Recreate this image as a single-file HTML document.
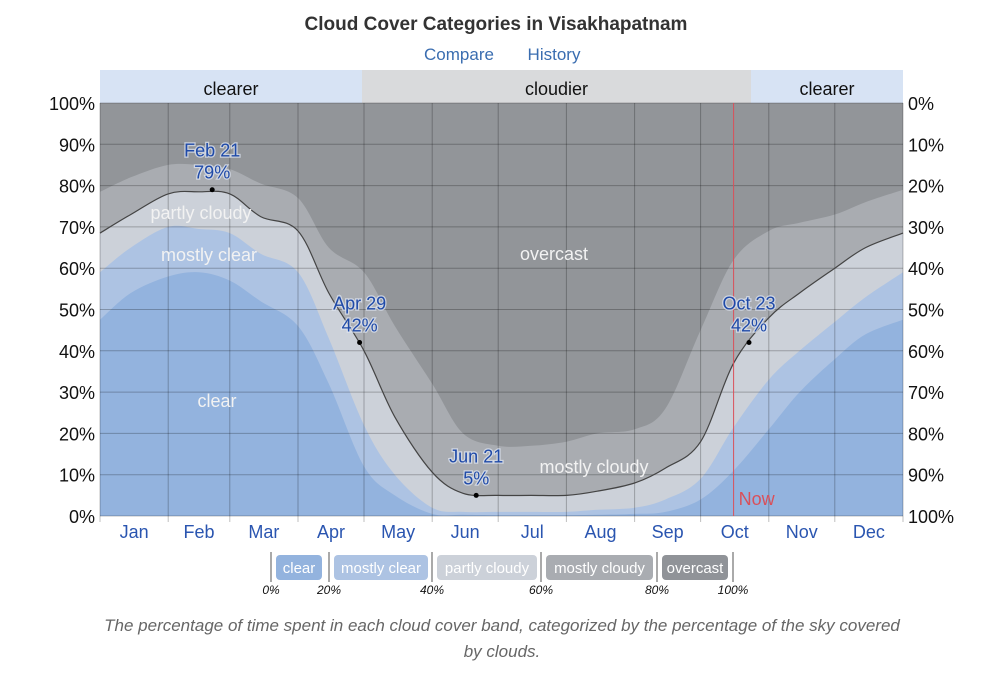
<!DOCTYPE html>
<html><head><meta charset="utf-8"><style>
body{margin:0;background:#fff;width:993px;height:682px;overflow:hidden;font-family:"Liberation Sans",sans-serif;}
svg{position:absolute;left:0;top:0}
</style></head><body>
<svg id="c" width="993" height="682"></svg>
<script>
const days=[0,14,31,45,59,73,90,104,120,134,151,165,181,196,212,226,243,257,273,288,304,318,334,348,365];
const clearTop=[47.5,54,58,59,57,52,46,32,12,5,0.5,0.3,0.2,0.2,0.2,0.3,0.5,1,4,11,21,30,38,44,47.5];
const mostlyClearTop=[59,65,70,69.5,68.5,63.5,59,43,22,10,2,1,1,1,1,1.5,2,4,9,21.5,33,40,47,53,59];
const partlyCloudyTop=[68.5,73,78,78.5,78,72.5,69,54,40,24,10.6,5.5,5,5,5,6,8,11.6,18,37,48,54,60,65,68.5];
const mostlyCloudyTop=[78.5,82,85,85,84,80.5,77,65,59,46,32,20,17,17,18,20,21,26,45,62,69,71,73,76,79];
const months=["Jan","Feb","Mar","Apr","May","Jun","Jul","Aug","Sep","Oct","Nov","Dec"];
const monthStart=[0,31,59,90,120,151,181,212,243,273,304,334,365];
const yTicks=[0,10,20,30,40,50,60,70,80,90,100];
const markerDays=[51,118,171,295];
const markerVals=[79,42,5,42];
const markerNames=["Feb 21","Apr 29","Jun 21","Oct 23"];
const nowDay=288;

const X0=100,X1=903,Y0=516,Y1=103;
const xs=d=>X0+d*(X1-X0)/365;
const ys=v=>Y0-v*(Y0-Y1)/100;
const NS="http://www.w3.org/2000/svg";
const svg=document.getElementById('c');
function mk(tag,attrs,parent){const e=document.createElementNS(NS,tag);for(const k in attrs)e.setAttribute(k,attrs[k]);(parent||svg).appendChild(e);return e;}
function txt(s,attrs){const e=mk('text',attrs);e.textContent=s;return e;}
function smooth(arr){
  const P=days.map((d,i)=>[xs(d),ys(arr[i])]);
  let d='M'+P[0][0].toFixed(1)+','+P[0][1].toFixed(1);
  for(let i=0;i<P.length-1;i++){
    const p0=P[Math.max(0,i-1)],p1=P[i],p2=P[i+1],p3=P[Math.min(P.length-1,i+2)];
    const c1=[p1[0]+(p2[0]-p0[0])/6,p1[1]+(p2[1]-p0[1])/6];
    const c2=[p2[0]-(p3[0]-p1[0])/6,p2[1]-(p3[1]-p1[1])/6];
    d+=' C'+c1[0].toFixed(1)+','+c1[1].toFixed(1)+' '+c2[0].toFixed(1)+','+c2[1].toFixed(1)+' '+p2[0].toFixed(1)+','+p2[1].toFixed(1);
  }
  return d;
}

let t=txt("Cloud Cover Categories in Visakhapatnam",{x:496,y:30,'text-anchor':'middle','font-size':19,'font-weight':'bold',fill:'#333'});

t=txt("Compare",{x:459,y:60,'text-anchor':'middle','font-size':17,fill:'#3a6db0'});

t=txt("History",{x:554,y:60,'text-anchor':'middle','font-size':17,fill:'#3a6db0'});


const hb=[[X0,362,'#d7e3f4','clearer'],[362,751,'#d9dadc','cloudier'],[751,X1,'#d7e3f4','clearer']];
hb.forEach((h,i)=>{let r=mk('rect',{x:h[0],y:70,width:h[1]-h[0],height:33,fill:h[2]});

let tt=txt(h[3],{x:(h[0]+h[1])/2,y:95,'text-anchor':'middle','font-size':18,fill:'#111'});
});

let bg=mk('rect',{x:X0,y:Y1,width:X1-X0,height:Y0-Y1,fill:'#929599'});

function area(arr,fill,name){let d=smooth(arr)+' L'+xs(365)+','+ys(0)+' L'+xs(0)+','+ys(0)+' Z';
let p=mk('path',{d:d,fill:fill});}
area(mostlyCloudyTop,'#a9acb1','mostly-cloudy-area');
area(partlyCloudyTop,'#ccd1d9','partly-cloudy-area');
area(mostlyClearTop,'#adc3e3','mostly-clear-area');
area(clearTop,'#93b3de','clear-area');

yTicks.forEach(v=>{let l=mk('line',{x1:X0,x2:X1,y1:ys(v),y2:ys(v),stroke:'rgba(0,0,0,0.25)','stroke-width':1});

let a=txt(v+'%',{x:95,y:ys(v)+7,'text-anchor':'end','font-size':18,fill:'#111'});

let b=txt((100-v)+'%',{x:908,y:ys(v)+7,'font-size':18,fill:'#111'});
});
monthStart.forEach(d=>{let l=mk('line',{x1:xs(d),x2:xs(d),y1:Y1,y2:Y0+6,stroke:'rgba(0,0,0,0.25)','stroke-width':1});
});
months.forEach((m,i)=>{let a=txt(m,{x:xs((monthStart[i]+monthStart[i+1])/2),y:538,'text-anchor':'middle','font-size':18,fill:'#2a55b0'});
});

let pl=mk('path',{d:smooth(partlyCloudyTop),fill:'none',stroke:'#444','stroke-width':1.2});


let nl=mk('line',{x1:xs(nowDay),x2:xs(nowDay),y1:Y1,y2:Y0,stroke:'#d9505a','stroke-width':1});

t=txt("Now",{x:xs(nowDay)+5,y:505,'font-size':18,fill:'#d9505a'});


[["clear",217,407],["mostly clear",209,261],["partly cloudy",201,219],["overcast",554,260],["mostly cloudy",594,473]].forEach(b=>{
let a=txt(b[0],{x:b[1],y:b[2],'text-anchor':'middle','font-size':18,fill:'#f2f2f2'});
});

markerDays.forEach((d,i)=>{let c=mk('circle',{cx:xs(d),cy:ys(markerVals[i]),r:2.5,fill:'#000'});

const st={'text-anchor':'middle','font-size':18,fill:'#1f4aa8',stroke:'rgba(225,232,245,0.7)','stroke-width':2.5,'paint-order':'stroke'};
let a=txt(markerNames[i],Object.assign({x:xs(d),y:ys(markerVals[i])-33},st));

let b=txt(markerVals[i]+'%',Object.assign({x:xs(d),y:ys(markerVals[i])-11},st));
});

const legNames=["clear","mostly clear","partly cloudy","mostly cloudy","overcast"];
const legColors=["#93b3de","#adc3e3","#ccd1d9","#a9acb1","#909398"];
const legPct=["0%","20%","40%","60%","80%","100%"];
const sepX=[271,329,432,541,657,733];
const boxes=[[276,322],[334,428],[437,537],[546,653],[662,728]];
boxes.forEach((b,i)=>{let r=mk('rect',{x:b[0],y:555,width:b[1]-b[0],height:25,rx:4,fill:legColors[i]});

let a=txt(legNames[i],{x:(b[0]+b[1])/2,y:573,'text-anchor':'middle','font-size':15,fill:'#fff'});
});
sepX.forEach((x,i)=>{let l=mk('line',{x1:x,x2:x,y1:552,y2:582,stroke:'#555','stroke-width':1});

let a=txt(legPct[i],{x:x,y:594,'text-anchor':'middle','font-size':12,'font-style':'italic',fill:'#111'});
});

t=txt("The percentage of time spent in each cloud cover band, categorized by the percentage of the sky covered",{x:502,y:631,'text-anchor':'middle','font-size':17,'font-style':'italic',fill:'#666'});

t=txt("by clouds.",{x:502,y:657,'text-anchor':'middle','font-size':17,'font-style':'italic',fill:'#666'});

</script>
</body></html>
